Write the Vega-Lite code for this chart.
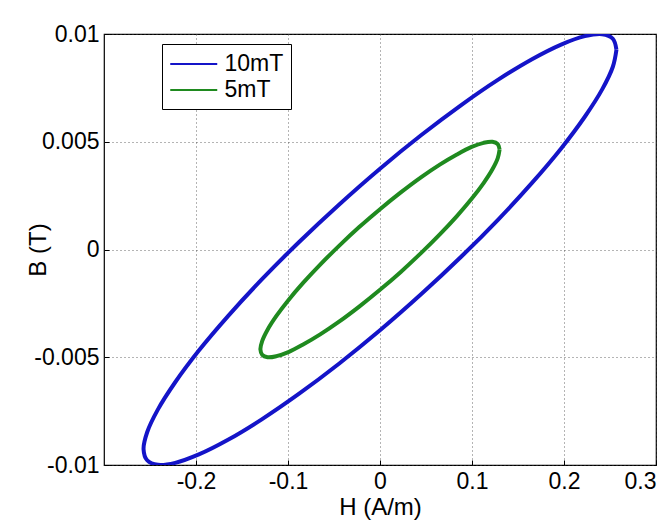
{
  "$schema": "https://vega.github.io/schema/vega-lite/v6.json",
  "width": 552,
  "height": 431,
  "autosize": {"type": "none"},
  "padding": {"left": 104, "top": 34, "right": 16, "bottom": 60},
  "background": "white",
  "config": {
    "font": "Liberation Sans",
    "view": {"stroke": "black", "strokeWidth": 1.2},
    "axis": {
      "labelFont": "Liberation Sans",
      "titleFont": "Liberation Sans",
      "labelFontSize": 23,
      "titleFontSize": 24,
      "labelColor": "black",
      "titleColor": "black",
      "titleFontWeight": "normal",
      "domain": false,
      "tickColor": "black",
      "tickSize": -5,
      "grid": true,
      "gridColor": "#444444",
      "gridDash": [1, 3],
      "gridWidth": 1,
      "gridOpacity": 0.8,
      "labelExpr": "replace(datum.label, '−', '-')"
    }
  },
  "data": {
    "values": [
      {"loop": "10mT", "i": 0, "H": 0.257, "B": 0.00927},
      {"loop": "10mT", "i": 1, "H": 0.2531, "B": 0.00978},
      {"loop": "10mT", "i": 2, "H": 0.2415, "B": 0.00999},
      {"loop": "10mT", "i": 3, "H": 0.2226, "B": 0.0099},
      {"loop": "10mT", "i": 4, "H": 0.1969, "B": 0.00951},
      {"loop": "10mT", "i": 5, "H": 0.1652, "B": 0.00883},
      {"loop": "10mT", "i": 6, "H": 0.1285, "B": 0.00788},
      {"loop": "10mT", "i": 7, "H": 0.0879, "B": 0.00669},
      {"loop": "10mT", "i": 8, "H": 0.0446, "B": 0.0053},
      {"loop": "10mT", "i": 9, "H": 0.0, "B": 0.00375},
      {"loop": "10mT", "i": 10, "H": -0.0446, "B": 0.00208},
      {"loop": "10mT", "i": 11, "H": -0.0879, "B": 0.00035},
      {"loop": "10mT", "i": 12, "H": -0.1285, "B": -0.00139},
      {"loop": "10mT", "i": 13, "H": -0.1652, "B": -0.00309},
      {"loop": "10mT", "i": 14, "H": -0.1969, "B": -0.00469},
      {"loop": "10mT", "i": 15, "H": -0.2226, "B": -0.00616},
      {"loop": "10mT", "i": 16, "H": -0.2415, "B": -0.00743},
      {"loop": "10mT", "i": 17, "H": -0.2531, "B": -0.00848},
      {"loop": "10mT", "i": 18, "H": -0.257, "B": -0.00927},
      {"loop": "10mT", "i": 19, "H": -0.2531, "B": -0.00978},
      {"loop": "10mT", "i": 20, "H": -0.2415, "B": -0.00999},
      {"loop": "10mT", "i": 21, "H": -0.2226, "B": -0.0099},
      {"loop": "10mT", "i": 22, "H": -0.1969, "B": -0.00951},
      {"loop": "10mT", "i": 23, "H": -0.1652, "B": -0.00883},
      {"loop": "10mT", "i": 24, "H": -0.1285, "B": -0.00788},
      {"loop": "10mT", "i": 25, "H": -0.0879, "B": -0.00669},
      {"loop": "10mT", "i": 26, "H": -0.0446, "B": -0.0053},
      {"loop": "10mT", "i": 27, "H": 0.0, "B": -0.00375},
      {"loop": "10mT", "i": 28, "H": 0.0446, "B": -0.00208},
      {"loop": "10mT", "i": 29, "H": 0.0879, "B": -0.00035},
      {"loop": "10mT", "i": 30, "H": 0.1285, "B": 0.00139},
      {"loop": "10mT", "i": 31, "H": 0.1652, "B": 0.00309},
      {"loop": "10mT", "i": 32, "H": 0.1969, "B": 0.00469},
      {"loop": "10mT", "i": 33, "H": 0.2226, "B": 0.00616},
      {"loop": "10mT", "i": 34, "H": 0.2415, "B": 0.00743},
      {"loop": "10mT", "i": 35, "H": 0.2531, "B": 0.00848},
      {"loop": "10mT", "i": 36, "H": 0.257, "B": 0.00927},
      {"loop": "5mT", "i": 0, "H": 0.13, "B": 0.00464},
      {"loop": "5mT", "i": 1, "H": 0.128, "B": 0.00489},
      {"loop": "5mT", "i": 2, "H": 0.1222, "B": 0.005},
      {"loop": "5mT", "i": 3, "H": 0.1126, "B": 0.00495},
      {"loop": "5mT", "i": 4, "H": 0.0996, "B": 0.00476},
      {"loop": "5mT", "i": 5, "H": 0.0836, "B": 0.00441},
      {"loop": "5mT", "i": 6, "H": 0.065, "B": 0.00394},
      {"loop": "5mT", "i": 7, "H": 0.0445, "B": 0.00335},
      {"loop": "5mT", "i": 8, "H": 0.0226, "B": 0.00265},
      {"loop": "5mT", "i": 9, "H": 0.0, "B": 0.00187},
      {"loop": "5mT", "i": 10, "H": -0.0226, "B": 0.00104},
      {"loop": "5mT", "i": 11, "H": -0.0445, "B": 0.00017},
      {"loop": "5mT", "i": 12, "H": -0.065, "B": -0.0007},
      {"loop": "5mT", "i": 13, "H": -0.0836, "B": -0.00155},
      {"loop": "5mT", "i": 14, "H": -0.0996, "B": -0.00235},
      {"loop": "5mT", "i": 15, "H": -0.1126, "B": -0.00308},
      {"loop": "5mT", "i": 16, "H": -0.1222, "B": -0.00372},
      {"loop": "5mT", "i": 17, "H": -0.128, "B": -0.00424},
      {"loop": "5mT", "i": 18, "H": -0.13, "B": -0.00464},
      {"loop": "5mT", "i": 19, "H": -0.128, "B": -0.00489},
      {"loop": "5mT", "i": 20, "H": -0.1222, "B": -0.005},
      {"loop": "5mT", "i": 21, "H": -0.1126, "B": -0.00495},
      {"loop": "5mT", "i": 22, "H": -0.0996, "B": -0.00476},
      {"loop": "5mT", "i": 23, "H": -0.0836, "B": -0.00441},
      {"loop": "5mT", "i": 24, "H": -0.065, "B": -0.00394},
      {"loop": "5mT", "i": 25, "H": -0.0445, "B": -0.00335},
      {"loop": "5mT", "i": 26, "H": -0.0226, "B": -0.00265},
      {"loop": "5mT", "i": 27, "H": 0.0, "B": -0.00187},
      {"loop": "5mT", "i": 28, "H": 0.0226, "B": -0.00104},
      {"loop": "5mT", "i": 29, "H": 0.0445, "B": -0.00017},
      {"loop": "5mT", "i": 30, "H": 0.065, "B": 0.0007},
      {"loop": "5mT", "i": 31, "H": 0.0836, "B": 0.00155},
      {"loop": "5mT", "i": 32, "H": 0.0996, "B": 0.00235},
      {"loop": "5mT", "i": 33, "H": 0.1126, "B": 0.00308},
      {"loop": "5mT", "i": 34, "H": 0.1222, "B": 0.00372},
      {"loop": "5mT", "i": 35, "H": 0.128, "B": 0.00424},
      {"loop": "5mT", "i": 36, "H": 0.13, "B": 0.00464}
    ]
  },
  "mark": {"type": "line", "strokeWidth": 4, "interpolate": "catmull-rom", "clip": true},
  "encoding": {
    "x": {
      "field": "H",
      "type": "quantitative",
      "scale": {"domain": [-0.3, 0.3], "nice": false, "zero": false},
      "axis": {"title": "H (A/m)", "values": [-0.2, -0.1, 0, 0.1, 0.2, 0.3], "format": ".1~f", "labelPadding": 10, "titlePadding": 2}
    },
    "y": {
      "field": "B",
      "type": "quantitative",
      "scale": {"domain": [-0.01, 0.01], "nice": false, "zero": false},
      "axis": {"title": "B (T)", "values": [-0.01, -0.005, 0, 0.005, 0.01], "format": "~g", "labelPadding": 10, "titlePadding": -17}
    },
    "color": {
      "field": "loop",
      "type": "nominal",
      "sort": ["10mT", "5mT"],
      "scale": {"domain": ["10mT", "5mT"], "range": ["#1414c8", "#1f8a1f"]},
      "legend": {
        "title": null,
        "orient": "none",
        "legendX": 58,
        "legendY": 10,
        "symbolType": "M-1,0H3",
        "symbolSize": 552,
        "symbolStrokeWidth": 2,
        "labelFontSize": 23,
        "labelFont": "Liberation Sans",
        "labelColor": "black",
        "labelOffset": 29.5,
        "strokeColor": "black",
        "fillColor": "white",
        "padding": 7,
        "rowPadding": 1
      }
    },
    "order": {"field": "i", "type": "quantitative"}
  }
}
